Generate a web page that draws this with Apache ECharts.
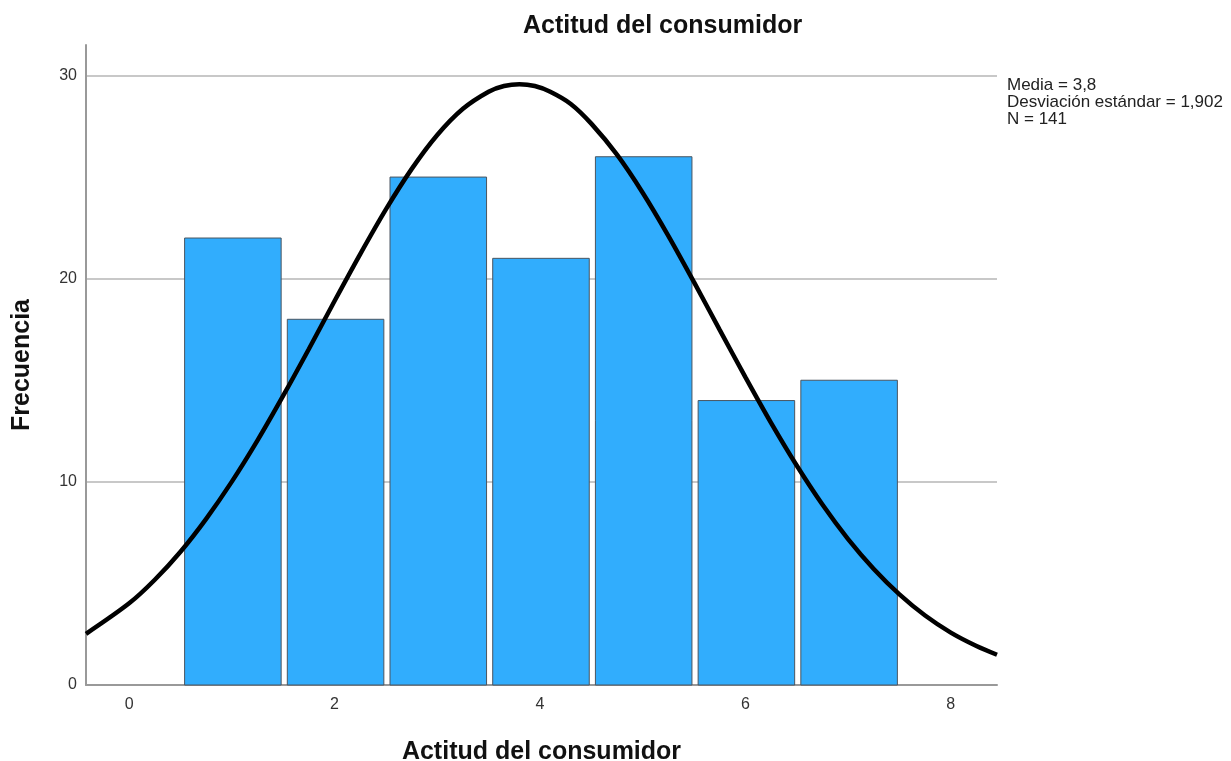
<!DOCTYPE html>
<html>
<head>
<meta charset="utf-8">
<script src="https://cdn.jsdelivr.net/npm/echarts@6/dist/echarts.min.js"></script>
<style>html,body{margin:0;padding:0;background:#fff;}#c{width:1231px;height:761px;}</style>
</head>
<body>
<div id="c"></div>
<script>
const title = 'Actitud del consumidor';
const xName = 'Actitud del consumidor';
const yName = 'Frecuencia';
const binCenters = [1, 2, 3, 4, 5, 6, 7];
const frequencies = [22, 18, 25, 21, 26, 14, 15];
const xTicks = [0, 2, 4, 6, 8];
const statsLines = ['Media = 3,8', 'Desviación estándar = 1,902', 'N = 141'];
// normal curve points
const curveX = [-0.42, 0, 0.25, 0.5, 0.75, 1, 1.25, 1.5, 1.75, 2, 2.25, 2.5, 2.75, 3, 3.25, 3.5, 3.65, 3.8, 3.95, 4.1, 4.3, 4.5, 4.75, 5, 5.25, 5.5, 5.75, 6, 6.25, 6.5, 6.75, 7, 7.25, 7.5, 7.75, 8, 8.25, 8.45];
const curveY = [2.52, 4.02, 5.18, 6.56, 8.18, 10.01, 12.04, 14.24, 16.54, 18.9, 21.21, 23.41, 25.39, 27.07, 28.36, 29.2, 29.48, 29.57, 29.48, 29.2, 28.6, 27.63, 26.1, 24.23, 22.11, 19.83, 17.48, 15.15, 12.9, 10.8, 8.88, 7.18, 5.71, 4.46, 3.42, 2.58, 1.92, 1.49];

const chart = echarts.init(document.getElementById('c'), null, {renderer: 'canvas'});
const FONT = '"Liberation Sans", Arial, sans-serif';
chart.setOption({
  animation: false,
  backgroundColor: '#fff',
  title: {
    text: title, left: 518, top: 9,
    textStyle: {fontFamily: FONT, fontSize: 25, fontWeight: 'bold', color: '#111'}
  },
  graphic: [{
    type: 'text', left: 1007, top: 77,
    style: {text: statsLines.join('\n'), font: '17px ' + FONT, fill: '#222', lineHeight: 17}
  }],
  grid: {left: 86, right: 234, top: 45, bottom: 76, outerBoundsMode: 'none'},
  xAxis: {
    type: 'value', min: -0.42, max: 8.45,
    name: xName, nameLocation: 'middle', nameGap: 55,
    nameTextStyle: {fontFamily: FONT, fontSize: 25, fontWeight: 'bold', color: '#111'},
    axisLine: {show: true, onZero: false, lineStyle: {color: '#999', width: 2}},
    axisTick: {show: false},
    splitLine: {show: false},
    axisLabel: {customValues: xTicks, fontFamily: FONT, fontSize: 16, color: '#333', margin: 12}
  },
  yAxis: {
    type: 'value', min: 0, max: 31.5, interval: 10,
    name: yName, nameLocation: 'middle', nameGap: 51, nameRotate: 90,
    nameTextStyle: {fontFamily: FONT, fontSize: 25, fontWeight: 'bold', color: '#111'},
    axisLine: {show: true, onZero: false, lineStyle: {color: '#999', width: 2}},
    axisTick: {show: false},
    splitLine: {show: true, showMaxLine: false, showMinLine: false, lineStyle: {color: '#c8c8c8', width: 2}},
    axisLabel: {fontFamily: FONT, fontSize: 16, color: '#333', margin: 9, showMaxLabel: false}
  },
  series: [{
    type: 'custom',
    data: binCenters.map((c, i) => [c, frequencies[i]]),
    renderItem: function (params, api) {
      const c = api.value(0), f = api.value(1);
      const p0 = api.coord([c - 0.46, f]);
      const p1 = api.coord([c + 0.48, 0]);
      return {
        type: 'rect',
        shape: {x: p0[0], y: p0[1], width: p1[0] - p0[0], height: p1[1] - p0[1]},
        style: {fill: '#31adfd', stroke: '#4a5560', lineWidth: 1}
      };
    },
    z: 2
  }, {
    type: 'line',
    data: curveX.map((x, i) => [x, curveY[i]]),
    smooth: 0.3,
    showSymbol: false,
    lineStyle: {color: '#000', width: 4.5},
    z: 3
  }]
});
</script>
</body>
</html>
